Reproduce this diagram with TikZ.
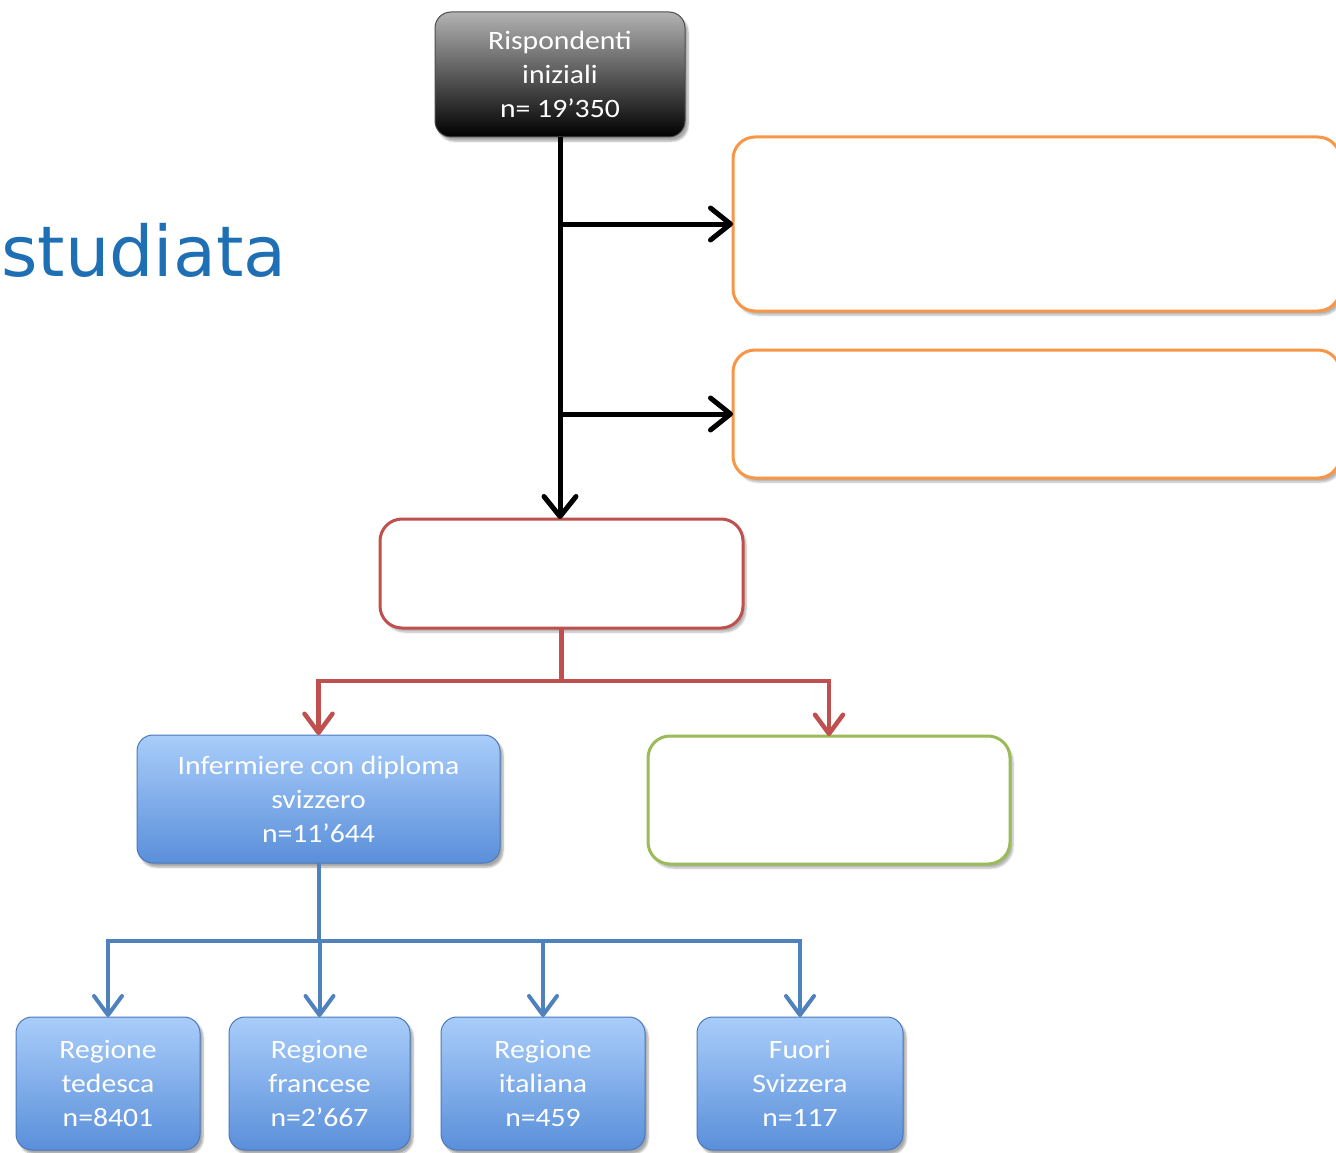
\documentclass[tikz,border=0pt]{standalone}
\usepackage{fontspec}
\setmainfont{Carlito}
\newfontfamily\boxfont[FakeStretch=1.12]{Carlito}
\newfontfamily\titlefont{DejaVu Sans}
\usetikzlibrary{arrows.meta,shadows.blur}
\definecolor{boxorange}{HTML}{F79646}
\definecolor{boxred}{HTML}{C0504D}
\definecolor{boxgreen}{HTML}{9BBB59}
\definecolor{lineblue}{HTML}{4F81BD}
\definecolor{titleblue}{HTML}{1F6FB4}
\definecolor{glosstop}{HTML}{A9CDFA}
\definecolor{glossbottom}{HTML}{5A8FDA}
\definecolor{glossedge}{HTML}{4A78BC}
\tikzset{
  every box/.style={rounded corners=16pt, inner sep=0pt, outer sep=0pt, align=center,
    text=white, font=\boxfont\fontsize{26.5}{34}\selectfont,
    blur shadow={shadow xshift=3pt, shadow yshift=-4pt, shadow opacity=35, shadow blur steps=6}},
  darkbox/.style={every box, draw=black!70, line width=1pt,
    top color=black!30, middle color=black!85, bottom color=black},
  bluebox/.style={every box, draw=glossedge, line width=1pt,
    top color=glosstop, bottom color=glossbottom},
  emptybox/.style={rounded corners=22pt, inner sep=0pt, outer sep=0pt, fill=white,
    line width=3pt, blur shadow={shadow xshift=3pt, shadow yshift=-4pt, shadow opacity=30, shadow blur steps=6}},
  blackline/.style={line width=5pt, -{Straight Barb[length=20pt,width=32pt,line cap=round,line join=round]}},
  redline/.style={line width=4.5pt, draw=boxred, -{Straight Barb[length=19pt,width=28pt,line cap=round,line join=round]}},
  blueline/.style={line width=4pt, draw=lineblue, -{Straight Barb[length=19pt,width=28pt,line cap=round,line join=round]}},
}
\begin{document}
\begin{tikzpicture}[x=1pt,y=-1pt]
    \clip (0,0) rectangle (1336,1153);
    % title fragment
    \node [anchor=base west, inner sep=0pt, text=titleblue, font=\titlefont\fontsize{70}{80}\selectfont] (titolo) at (1,276) {studiata};
    % boxes
    \node [darkbox, minimum width=250pt, minimum height=125pt] (rispondenti) at (560,74.5) {Rispondenti\\ iniziali\\ n= 19’350};
    \node [emptybox, draw=boxorange, minimum width=607pt, minimum height=174pt] (escl1) at (1036.5,224) {};
    \node [emptybox, draw=boxorange, minimum width=607pt, minimum height=128pt] (escl2) at (1036.5,414) {};
    \node [emptybox, draw=boxred, minimum width=363pt, minimum height=109pt] (campione) at (561.5,573.5) {};
    \node [bluebox, minimum width=363pt, minimum height=128pt] (infsvizzeri) at (318.5,799) {Infermiere con diploma\\ svizzero\\ n=11’644};
    \node [emptybox, draw=boxgreen, minimum width=362pt, minimum height=128pt] (infestero) at (829,800) {};
    \node [bluebox, minimum width=184pt, minimum height=133pt] (tedesca) at (108,1083.5) {Regione\\ tedesca\\ n=8401};
    \node [bluebox, minimum width=181pt, minimum height=133pt] (francese) at (319.5,1083.5) {Regione\\ francese\\ n=2’667};
    \node [bluebox, minimum width=204pt, minimum height=133pt] (italiana) at (543,1083.5) {Regione\\ italiana\\ n=459};
    \node [bluebox, minimum width=206pt, minimum height=133pt] (fuori) at (800,1083.5) {Fuori\\ Svizzera\\ n=117};
    % split points
    \coordinate (rsplit) at (561.5,681);
    \coordinate (bsplit) at (318.5,941);
    % black connectors
    \draw [blackline] (rispondenti.south) -- (rispondenti.south |- campione.north);
    \draw [blackline] (rispondenti.south |- escl1.west) -- (escl1.west);
    \draw [blackline] (rispondenti.south |- escl2.west) -- (escl2.west);
    % red connectors
    \draw [line width=4.5pt, boxred] (campione.south) -- (rsplit);
    \draw [redline] (rsplit) -| (infsvizzeri.north);
    \draw [redline] (rsplit) -| (infestero.north);
    % blue connectors
    \draw [line width=4pt, lineblue] (infsvizzeri.south) -- (bsplit);
    \draw [blueline] (bsplit) -| (tedesca.north);
    \draw [blueline] (bsplit) -| (francese.north);
    \draw [blueline] (bsplit) -| (italiana.north);
    \draw [blueline] (bsplit) -| (fuori.north);
\end{tikzpicture}
\end{document}
